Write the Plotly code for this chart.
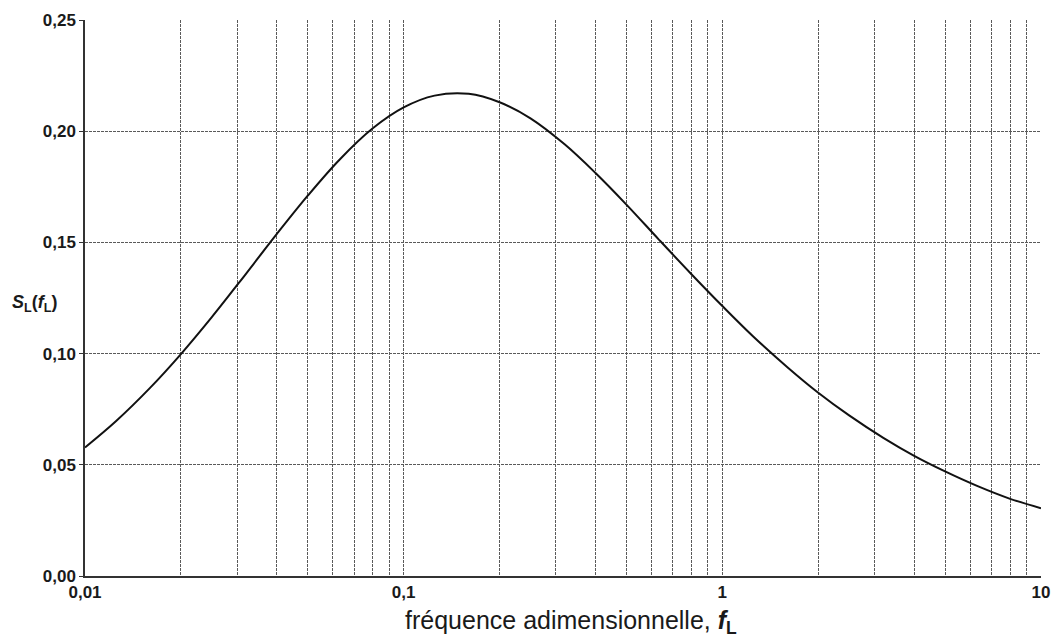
import plotly.graph_objects as go

# Spectral density curve S_L(f_L), sampled along the frequency axis
f_L = [0.01, 0.0125, 0.016, 0.02, 0.025, 0.032, 0.04, 0.05, 0.063, 0.08,
       0.1, 0.125, 0.16, 0.2, 0.25, 0.32, 0.4, 0.5, 0.63, 0.8,
       1.0, 1.25, 1.6, 2.0, 2.5, 3.2, 4.0, 5.0, 6.3, 8.0, 10.0]
S_L = [0.0578, 0.0696, 0.0846, 0.0998, 0.1164, 0.1359, 0.1538, 0.1710, 0.1873, 0.2013,
       0.2107, 0.2160, 0.2168, 0.2130, 0.2058, 0.1941, 0.1812, 0.1670, 0.1515, 0.1357,
       0.1214, 0.1077, 0.0939, 0.0824, 0.0722, 0.0621, 0.0540, 0.0470, 0.0405, 0.0347, 0.0305]

y_ticks = [0.00, 0.05, 0.10, 0.15, 0.20, 0.25]
x_grid = [m * 10 ** e for e in (-2, -1, 0) for m in range(1, 10)] + [10]
x_labels = {0.01: "0,01", 0.1: "0,1", 1: "1", 10: "10"}

FONT = "Liberation Sans, Arial, sans-serif"
INK = "#1a1a1a"
GRID = "#5a5a5a"

fig = go.Figure()
fig.add_trace(go.Scatter(x=f_L, y=S_L, mode="lines",
                         line=dict(color="#111111", width=2, shape="spline", smoothing=1.0),
                         hoverinfo="skip", showlegend=False))

fig.update_layout(
    width=1056, height=638,
    margin=dict(l=85, r=15, t=20, b=62),
    paper_bgcolor="white", plot_bgcolor="white",
    font=dict(family=FONT, color=INK),
)

fig.update_xaxes(
    type="log", range=[-2, 1],
    tickmode="array", tickvals=x_grid,
    ticktext=[f"<b>{x_labels[round(v, 6)]}</b>" if round(v, 6) in x_labels else ""
              for v in x_grid],
    tickfont=dict(size=17, family=FONT, color=INK),
    ticklabeloverflow="allow",
    showgrid=True, gridcolor=GRID, gridwidth=1, griddash="3px,1px",
    showline=True, linecolor="#333333", linewidth=1.5,
    ticks="", zeroline=False, automargin=False,
)
fig.update_yaxes(
    range=[0, 0.25],
    tickmode="array", tickvals=y_ticks,
    ticktext=[f"<b>{v:.2f}</b>".replace(".", ",") for v in y_ticks],
    tickfont=dict(size=17, family=FONT, color=INK),
    ticklabeloverflow="allow",
    showgrid=True, gridcolor=GRID, gridwidth=1, griddash="3px,1px",
    showline=True, linecolor="#333333", linewidth=1.5,
    ticks="outside", ticklen=4, tickcolor="#333333",
    zeroline=False, automargin=False,
)

# Axis titles
fig.add_annotation(
    text="<b><i>S</i><sub>L</sub>(<i>f</i><sub>L</sub>)</b>",
    xref="paper", yref="paper", x=-0.053, y=0.49,
    xanchor="center", yanchor="middle", showarrow=False,
    font=dict(size=18, family=FONT, color=INK),
)
fig.add_annotation(
    text="fréquence adimensionnelle, <b><i>f</i><sub>L</sub></b>",
    xref="paper", yref="paper", x=0.508, y=-0.083,
    xanchor="center", yanchor="middle", showarrow=False,
    font=dict(size=25, family=FONT, color=INK),
)

fig.write_html("out.html")
